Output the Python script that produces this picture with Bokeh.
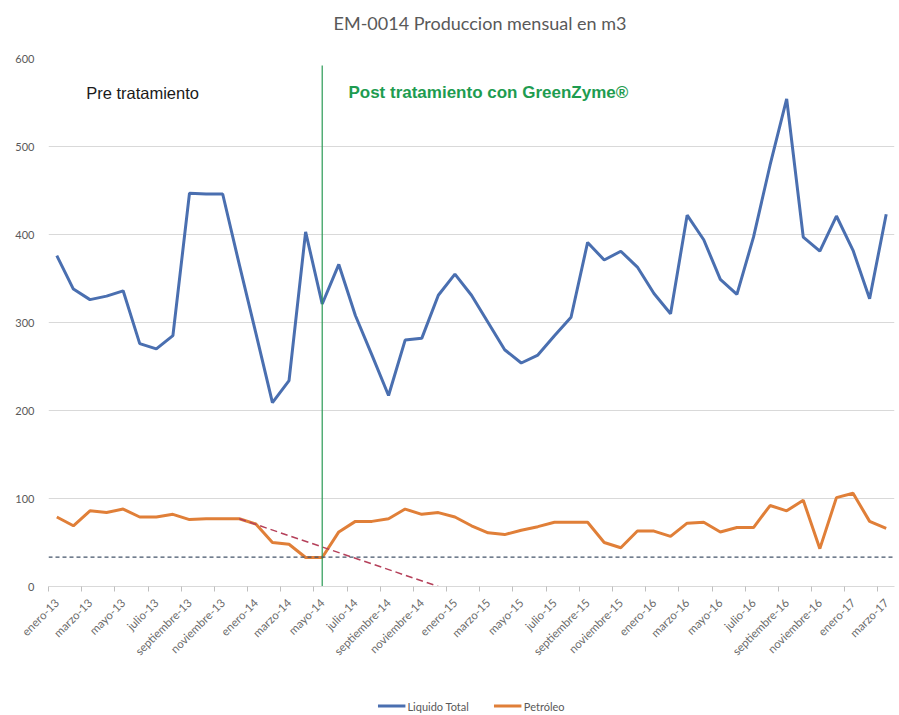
import math
from bokeh.plotting import figure
from bokeh.layouts import column
from bokeh.models import (Range1d, FixedTicker, Span, Label, Legend, LegendItem)
from bokeh.embed import file_html
from bokeh.resources import INLINE

# ---- data ----
tick_labels = ["enero-13", "marzo-13", "mayo-13", "julio-13", "septiembre-13", "noviembre-13",
               "enero-14", "marzo-14", "mayo-14", "julio-14", "septiembre-14", "noviembre-14",
               "enero-15", "marzo-15", "mayo-15", "julio-15", "septiembre-15", "noviembre-15",
               "enero-16", "marzo-16", "mayo-16", "julio-16", "septiembre-16", "noviembre-16",
               "enero-17", "marzo-17"]
liquido_total = [376, 338, 326, 330, 336, 276, 270, 285, 447, 446, 446, 366, 288, 209, 234, 403,
                 321, 366, 308, 263, 217, 280, 282, 331, 355, 331, 300, 269, 254, 263, 285, 306,
                 391, 371, 381, 363, 333, 310, 422, 394, 349, 332, 397, 479, 554, 397, 381, 421,
                 382, 327, 423]
petroleo = [79, 69, 86, 84, 88, 79, 79, 82, 76, 77, 77, 77, 71, 50, 48, 33, 33, 62, 74, 74,
            77, 88, 82, 84, 79, 69, 61, 59, 64, 68, 73, 73, 73, 50, 44, 63, 63, 57, 72, 73,
            62, 67, 67, 92, 86, 98, 43, 101, 106, 74, 66]
trend_x = [11, 23]
trend_y = [77, 0]
baseline_value = 33.3
treatment_index = 16
treatment_line_top = 592
y_ticks = [0, 100, 200, 300, 400, 500, 600]
series_names = ["Liquido Total", "Petróleo"]
series_colors = ["#4a6fb0", "#e07f38"]

n = len(liquido_total)
months_idx = list(range(n))
label_pos = list(range(0, n, 2))
boundary_pos = [i - 0.5 for i in range(0, n + 1, 2)]

# ---- title strip ----
pt = figure(width=898, height=44, output_backend="svg", toolbar_location=None, title=None,
            x_axis_location=None, y_axis_location=None, min_border=0,
            x_range=Range1d(0, 898), y_range=Range1d(0, 44))
pt.outline_line_color = None
pt.grid.grid_line_color = None
pt.add_layout(Label(x=458, y=22, text="EM-0014 Produccion mensual en m3", text_font="Lato",
                    text_font_size="18px", text_color="#595959", text_align="center",
                    text_baseline="middle"))

# ---- main chart ----
p = figure(frame_width=846, frame_height=528, output_backend="svg", toolbar_location=None,
           title=None, x_range=Range1d(-0.5, n - 0.5), y_range=Range1d(0, 600),
           min_border_left=48, min_border_right=4, min_border_top=14, min_border_bottom=110)
p.outline_line_color = None
p.background_fill_color = "white"
p.border_fill_color = "white"

p.xgrid.grid_line_color = None
p.ygrid.ticker = FixedTicker(ticks=y_ticks)
p.ygrid.grid_line_color = "#d9d9d9"
p.ygrid.grid_line_width = 1

p.yaxis.ticker = FixedTicker(ticks=y_ticks)
p.yaxis.axis_line_color = None
p.yaxis.major_tick_line_color = None
p.yaxis.minor_tick_line_color = None
p.yaxis.major_label_text_color = "#595959"
p.yaxis.major_label_text_font = "Lato"
p.yaxis.major_label_text_font_size = "11px"
p.yaxis.major_label_standoff = 8

p.xaxis.ticker = FixedTicker(ticks=label_pos, minor_ticks=boundary_pos)
p.xaxis.major_label_overrides = {pos: lab for pos, lab in zip(label_pos, tick_labels)}
p.xaxis.major_tick_line_color = None
p.xaxis.minor_tick_line_color = "#bfbfbf"
p.xaxis.minor_tick_out = 5
p.xaxis.minor_tick_in = 0
p.xaxis.axis_line_color = "#d9d9d9"
p.xaxis.major_label_orientation = math.pi / 4
p.xaxis.major_label_text_color = "#6b6b6b"
p.xaxis.major_label_text_font = "Lato"
p.xaxis.major_label_text_font_size = "11.5px"
p.xaxis.major_label_standoff = 8

p.line(months_idx, liquido_total, line_color=series_colors[0], line_width=3)
p.line(months_idx, petroleo, line_color=series_colors[1], line_width=3)

p.add_layout(Span(location=baseline_value, dimension="width", line_color="#44546a",
                  line_dash="4 3", line_width=1.2))
p.line(trend_x, trend_y, line_color="#b5405a", line_dash="7 4", line_width=1.5)
p.segment(x0=[treatment_index], y0=[0], x1=[treatment_index], y1=[treatment_line_top],
          line_color="#2a9a55", line_width=1.2)

p.add_layout(Label(x=1.77, y=561, text="Pre tratamiento", text_font="Liberation Sans",
                   text_font_size="16.5px", text_color="#1a1a1a", text_baseline="middle"))
p.add_layout(Label(x=17.58, y=561, text="Post tratamiento  con GreenZyme®", text_font="Liberation Sans",
                   text_font_size="17px", text_font_style="bold", text_color="#1e9c50",
                   text_baseline="middle"))

# ---- legend strip ----
pl = figure(width=898, height=19, output_backend="svg", toolbar_location=None, title=None,
            x_axis_location=None, y_axis_location=None, min_border=0, min_border_left=26,
            x_range=Range1d(0, 1), y_range=Range1d(0, 1))
pl.outline_line_color = None
pl.grid.grid_line_color = None
leg_items = []
for name, col in zip(series_names, series_colors):
    r = pl.line(x=[float("nan")], y=[float("nan")], line_color=col, line_width=3)
    leg_items.append(LegendItem(label=name, renderers=[r]))
legend = Legend(items=leg_items, orientation="horizontal", location="center")
legend.label_text_font = "Lato"
legend.label_text_font_size = "11px"
legend.label_text_color = "#595959"
legend.label_height = 12
legend.glyph_height = 12
legend.glyph_width = 28
legend.label_standoff = 2
legend.spacing = 25
legend.border_line_color = None
legend.background_fill_alpha = 0
legend.padding = 0
legend.margin = 0
pl.add_layout(legend)

layout = column(pt, p, pl, spacing=0)
open("out.html", "w").write(file_html(layout, INLINE))
